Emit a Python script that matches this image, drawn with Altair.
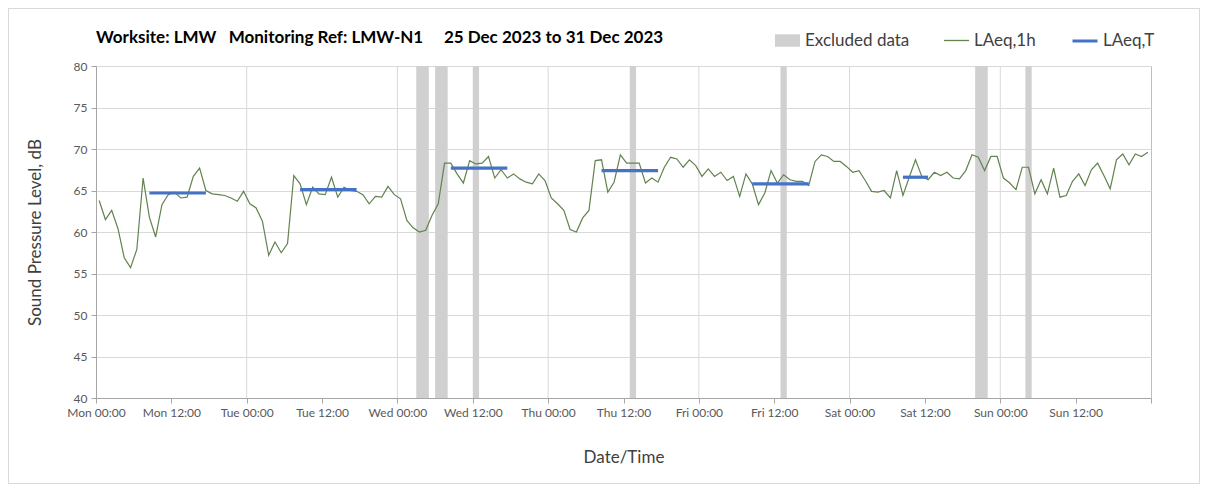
import altair as alt
import pandas as pd

# ---------------- data ----------------
START = "2023-12-25T00:00:00"

# hourly LAeq,1h values (dB), Mon 00:00 .. Sun 23:00
laeq_1h = [
    63.8, 61.5, 62.6, 60.4, 56.9, 55.7, 57.9, 66.5, 61.8, 59.4, 63.3, 64.5,
    64.8, 64.1, 64.2, 66.7, 67.7, 65.0, 64.6, 64.5, 64.4, 64.1, 63.7, 64.9,
    63.4, 62.9, 61.3, 57.2, 58.8, 57.5, 58.6, 66.8, 65.8, 63.3, 65.4, 64.6,
    64.5, 66.6, 64.2, 65.4, 65.0, 64.9, 64.5, 63.4, 64.3, 64.2, 65.5, 64.5,
    64.0, 61.4, 60.5, 60.0, 60.2, 62.0, 63.4, 68.3, 68.3, 67.0, 65.9, 68.6,
    68.2, 68.3, 69.1, 66.5, 67.5, 66.5, 67.0, 66.4, 66.0, 65.8, 67.0, 66.2,
    64.1, 63.4, 62.6, 60.3, 60.0, 61.7, 62.6, 68.6, 68.7, 64.8, 66.0, 69.3,
    68.3, 68.3, 68.3, 65.9, 66.5, 66.0, 67.8, 69.0, 68.8, 67.8, 68.7, 68.0,
    66.7, 67.6, 66.7, 67.2, 66.2, 66.7, 64.3, 67.0, 65.8, 63.3, 64.7, 67.4,
    65.9, 66.9, 66.3, 66.1, 66.1, 65.6, 68.5, 69.3, 69.1, 68.5, 68.5, 67.9,
    67.2, 67.4, 66.2, 64.9, 64.8, 65.0, 64.1, 67.4, 64.4, 66.6, 68.7, 66.7,
    66.3, 67.2, 66.8, 67.2, 66.5, 66.4, 67.4, 69.3, 69.0, 67.4, 69.1, 69.1,
    66.5, 65.9, 65.1, 67.8, 67.8, 64.6, 66.3, 64.6, 67.7, 64.2, 64.4, 66.1,
    67.0, 65.6, 67.5, 68.3, 66.8, 65.2, 68.7, 69.4, 68.1, 69.4, 69.1, 69.6,
]

# excluded periods (hours from Mon 00:00)
excluded_start_h = [51, 54, 60, 85, 109, 140, 148]
excluded_end_h = [53, 56, 61, 86, 110, 142, 149]

# LAeq,T daytime segments (first and last hourly period) and values
laeqT_start_h = [8, 32, 56, 80, 104, 128]
laeqT_end_h = [17, 41, 65, 89, 113, 132]
laeqT_values = [64.7, 65.1, 67.7, 67.4, 65.8, 66.6]

# day boundaries (vertical gridlines)
day_lines = ["2023-12-26T00:00:00", "2023-12-27T00:00:00", "2023-12-28T00:00:00",
             "2023-12-29T00:00:00", "2023-12-30T00:00:00", "2023-12-31T00:00:00"]

TITLE = "Worksite: LMW\u00a0\u00a0\u00a0Monitoring Ref: LMW-N1\u00a0\u00a0\u00a0\u00a0\u00a025 Dec 2023 to 31 Dec 2023"

# ---------------- tables ----------------
base = pd.Timestamp(START)
fmt = "%Y-%m-%dT%H:%M:%S"


def at(h):
    return (base + pd.Timedelta(hours=h)).strftime(fmt)


line_df = pd.DataFrame({
    "time": [at(i + 0.5) for i in range(len(laeq_1h))],
    "laeq": laeq_1h,
    "series": "LAeq,1h",
})
band_df = pd.DataFrame({
    "start": [at(h) for h in excluded_start_h],
    "end": [at(h) for h in excluded_end_h],
    "series": "Excluded data",
})
t_df = pd.DataFrame({
    "start": [at(h + 0.5) for h in laeqT_start_h],
    "end": [at(h + 0.5) for h in laeqT_end_h],
    "laeq": laeqT_values,
    "series": "LAeq,T",
})
day_df = pd.DataFrame({"day": day_lines})

# ---------------- styling ----------------
FONT = "Lato"
TXT = "#404040"
GRID = "#d9d9d9"
AXC = "#bfbfbf"
W, H = 1055, 332

tick_values = [alt.DateTime(year=2023, month=12, date=25 + d // 2, hours=12 * (d % 2)) for d in range(14)]
tick_values.append(alt.DateTime(year=2024, month=1, date=1, hours=0))

x_scale = alt.Scale(domain=[alt.DateTime(year=2023, month=12, date=25, hours=0),
                            alt.DateTime(year=2024, month=1, date=1, hours=0)])
x_axis = alt.Axis(
    values=tick_values, format="%a %H:%M", grid=False, title="Date/Time",
    labelExpr="month(datum.value) == 0 ? '' : datum.label",
    labelOverlap=False, labelFlush=False,
)
y_scale = alt.Scale(domain=[40, 80])
y_axis = alt.Axis(values=list(range(40, 81, 5)), title="Sound Pressure Level, dB", grid=True)

RECT_PATH = "M-1,-0.5H1V0.5H-1Z"


def legend(x, y, symbol, sw=None):
    kw = dict(orient="none", legendX=x, legendY=y, title=None, symbolType=symbol,
              symbolSize=625, labelFont=FONT, labelFontSize=17, labelColor=TXT,
              labelOffset=4, padding=0)
    if sw is not None:
        kw["symbolStrokeWidth"] = sw
    return alt.Legend(**kw)


# light outer frame of the chart area (decoration)
frame = alt.Chart(day_df).mark_rect(fill=None, stroke="#d9d9d9", strokeWidth=1, clip=False).encode(
    x=alt.value(-87.5), x2=alt.value(W + 48.5), y=alt.value(-57.5), y2=alt.value(H + 85.5),
)

days = alt.Chart(day_df).mark_rule(color=GRID, strokeWidth=1).encode(
    x=alt.X("day:T", scale=x_scale, axis=x_axis),
)

bands = alt.Chart(band_df).mark_rect(opacity=1).encode(
    x=alt.X("start:T", scale=x_scale, axis=x_axis),
    x2="end:T",
    y=alt.datum(80, scale=y_scale, axis=y_axis),
    y2=alt.datum(40),
    color=alt.Color("series:N", scale=alt.Scale(domain=["Excluded data"], range=["#d0d0d0"]),
                    legend=legend(678, -39, RECT_PATH)),
)

line = alt.Chart(line_df).mark_line(strokeWidth=1.2).encode(
    x=alt.X("time:T", scale=x_scale, axis=x_axis),
    y=alt.Y("laeq:Q", scale=y_scale, axis=y_axis),
    color=alt.Color("series:N", scale=alt.Scale(domain=["LAeq,1h"], range=["#62824f"]),
                    legend=legend(847, -39, "stroke", 1.3)),
)

tline = alt.Chart(t_df).mark_rule(strokeWidth=3.2).encode(
    x=alt.X("start:T", scale=x_scale, axis=x_axis),
    x2="end:T",
    y=alt.Y("laeq:Q", scale=y_scale, axis=y_axis),
    color=alt.Color("series:N", scale=alt.Scale(domain=["LAeq,T"], range=["#4472c4"]),
                    legend=legend(975, -39, "stroke", 3)),
)

chart = alt.layer(frame, days, bands, line, tline).resolve_scale(color="independent").properties(
    width=W,
    height=H,
    autosize=alt.AutoSizeParams(type="none"),
    padding={"left": 88, "top": 58, "right": 49, "bottom": 86},
    title=alt.TitleParams(TITLE, anchor="start", frame="group", font=FONT, fontSize=17,
                          fontWeight="bold", color="#000000", offset=-39),
).configure_view(
    stroke=AXC, strokeWidth=1,
).configure_axis(
    labelFont=FONT, labelFontSize=12, labelColor="#595959",
    titleFont=FONT, titleFontSize=17, titleColor=TXT, titleFontWeight="normal",
    domainColor="#a6a6a6", tickColor="#a6a6a6", tickSize=5,
    gridColor=GRID, gridWidth=1,
).configure_axisX(
    labelPadding=4, titlePadding=31,
).configure_axisY(
    labelPadding=4, titlePadding=29,
)

chart.save("out.html", embed_options={"renderer": "svg", "actions": False})
